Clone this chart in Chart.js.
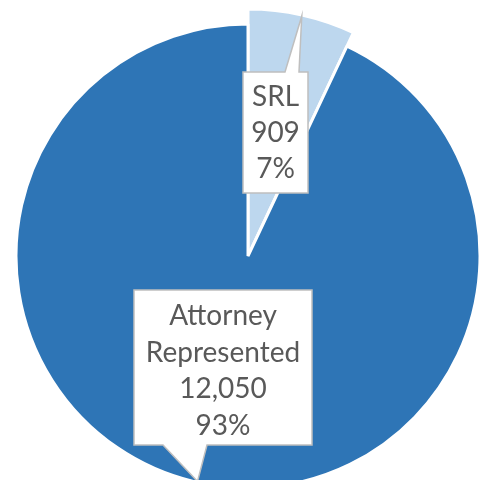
<!DOCTYPE html>
<html>
<head>
<meta charset="utf-8">
<script src="https://cdn.jsdelivr.net/npm/chart.js@4"></script>
<style>
  body { margin: 0; background: #fff; overflow: hidden; }
  #chartdiv { position: absolute; left: 0; top: 0; width: 485px; height: 480px; }
</style>
</head>
<body>
<div id="chartdiv"><canvas id="chart"></canvas></div>
<script>
const labels = ['SRL', 'Attorney Represented']
const counts = [909, 12050]
const colors = ['#BDD7EE', '#2E75B6']
// callout text lines for every slice
const calloutLines = [
  ['SRL', '909', '7%'],
  ['Attorney', 'Represented', '12,050', '93%']
]

const total = counts.reduce((a, b) => a + b, 0)

// boxes drawn around the labels (x, y = top left, w, h), pointer base on one edge
const boxes = [
  { x: 243, y: 72, w: 65, h: 121, edge: 'top', base: [285, 299], first: 34, step: 36 },
  { x: 134, y: 290, w: 178, h: 155, edge: 'bottom', base: [163, 207], first: 35, step: 36.7 }
]

const explodePlugin = {
  id: 'explode',
  afterDatasetsUpdate: (chart, args, opts) => {
    const arc = chart.getDatasetMeta(0).data[opts.index]
    if (arc) arc.outerRadius = arc.outerRadius + opts.extra
  }
}

const calloutPlugin = {
  id: 'callouts',
  afterDatasetsDraw: (chart) => {
    const ctx = chart.ctx
    const arcs = chart.getDatasetMeta(0).data
    ctx.save()
    arcs.forEach((arc, i) => {
      const b = boxes[i]
      const mid = (arc.startAngle + arc.endAngle) / 2
      const tipX = arc.x + Math.cos(mid) * (arc.outerRadius - 1)
      const tipY = arc.y + Math.sin(mid) * (arc.outerRadius - 1)
      const yEdge = b.edge == 'top' ? b.y : b.y + b.h
      ctx.beginPath()
      if (b.edge == 'top') {
        ctx.moveTo(b.x, b.y)
        ctx.lineTo(b.base[0], b.y)
        ctx.lineTo(tipX, tipY)
        ctx.lineTo(b.base[1], b.y)
        ctx.lineTo(b.x + b.w, b.y)
        ctx.lineTo(b.x + b.w, b.y + b.h)
        ctx.lineTo(b.x, b.y + b.h)
      } else {
        ctx.moveTo(b.x, b.y)
        ctx.lineTo(b.x + b.w, b.y)
        ctx.lineTo(b.x + b.w, yEdge)
        ctx.lineTo(b.base[1], yEdge)
        ctx.lineTo(tipX, tipY)
        ctx.lineTo(b.base[0], yEdge)
        ctx.lineTo(b.x, yEdge)
      }
      ctx.closePath()
      ctx.fillStyle = '#ffffff'
      ctx.fill()
      ctx.lineWidth = 1.5
      ctx.strokeStyle = '#BFBFBF'
      ctx.stroke()

      ctx.fillStyle = '#595959'
      ctx.font = '28px Lato'
      ctx.textAlign = 'center'
      ctx.textBaseline = 'alphabetic'
      calloutLines[i].forEach((line, k) => {
        ctx.fillText(line, b.x + b.w / 2, b.y + b.first + k * b.step)
      })
    })
    ctx.restore()
  }
}

const data = {
  labels: labels,
  datasets: [{
    data: counts,
    backgroundColor: colors,
    borderColor: '#ffffff',
    borderWidth: 3
  }]
}

const config = {
  type: 'pie',
  data: data,
  options: {
    responsive: true,
    maintainAspectRatio: false,
    animation: false,
    radius: 232,
    clip: false,
    layout: { padding: { left: 11, right: 0, top: 32, bottom: 0 } },
    plugins: {
      legend: { display: false },
      tooltip: { enabled: false },
      explode: { index: 0, extra: 15 }
    }
  },
  plugins: [explodePlugin, calloutPlugin]
}

const thechart = document.getElementById('chart').getContext('2d')
const mychart = new Chart(thechart, config)
</script>
</body>
</html>
